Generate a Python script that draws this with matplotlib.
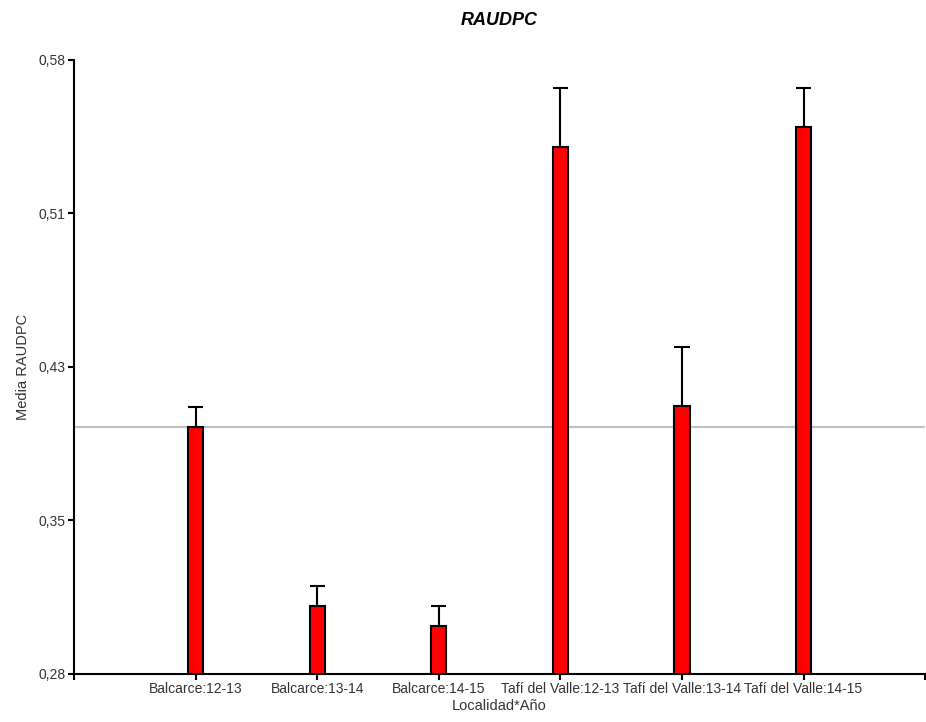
import numpy as np
import matplotlib
matplotlib.use("Agg")
import matplotlib.pyplot as plt
from matplotlib.ticker import FixedLocator

plt.rcParams["font.family"] = ["Liberation Sans", "DejaVu Sans"]

categorias = ["Balcarce:12-13", "Balcarce:13-14", "Balcarce:14-15",
              "Tafí del Valle:12-13", "Tafí del Valle:13-14", "Tafí del Valle:14-15"]
medias = [0.4007, 0.3132, 0.3034, 0.5374, 0.4109, 0.5472]
errores = [0.0097, 0.0098, 0.0098, 0.0289, 0.0288, 0.0191]
media_general = 0.4007

y_ticks = [0.28, 0.355, 0.43, 0.505, 0.58]
y_tick_labels = ["0,28", "0,35", "0,43", "0,51", "0,58"]

fig = plt.figure(figsize=(9.26, 7.22), dpi=100)
ax = fig.add_axes([0.080, 0.0665, 0.919, 0.8504])

x = np.arange(1, len(categorias) + 1)
ancho = 0.125
medias_arr = np.array(medias)
sup = medias_arr + np.array(errores)

ax.axhline(media_general, color="#c0c0c0", lw=1.5, zorder=1)
ax.bar(x, medias, width=ancho, color="#ff0000", edgecolor="black", linewidth=1.5, zorder=2)
# barras de error solo hacia arriba
ax.vlines(x, medias_arr, sup, color="black", lw=1.5, zorder=3)
ax.hlines(sup, x - ancho / 2, x + ancho / 2, color="black", lw=1.5, zorder=3)

ax.set_xlim(0, 7)
ax.set_ylim(0.28, 0.58)
ax.xaxis.set_major_locator(FixedLocator(np.arange(0, 8)))
ax.set_xticklabels([""] + categorias + [""])
ax.yaxis.set_major_locator(FixedLocator(y_ticks))
ax.set_yticklabels(y_tick_labels)
ax.tick_params(axis="both", direction="out", length=4, width=1.5, labelsize=10,
               colors="black", labelcolor="#333333", pad=2)

for side in ["top", "right"]:
    ax.spines[side].set_visible(False)
for side in ["left", "bottom"]:
    ax.spines[side].set_linewidth(1.5)

ax.set_title("RAUDPC", fontsize=13, fontweight="bold", fontstyle="italic", pad=25)
ax.set_ylabel("Media RAUDPC", fontsize=10.5, color="#333333", labelpad=6)
ax.set_xlabel("Localidad*Año", fontsize=10.5, color="#333333", labelpad=2)

fig.savefig("out.png", dpi=100)
